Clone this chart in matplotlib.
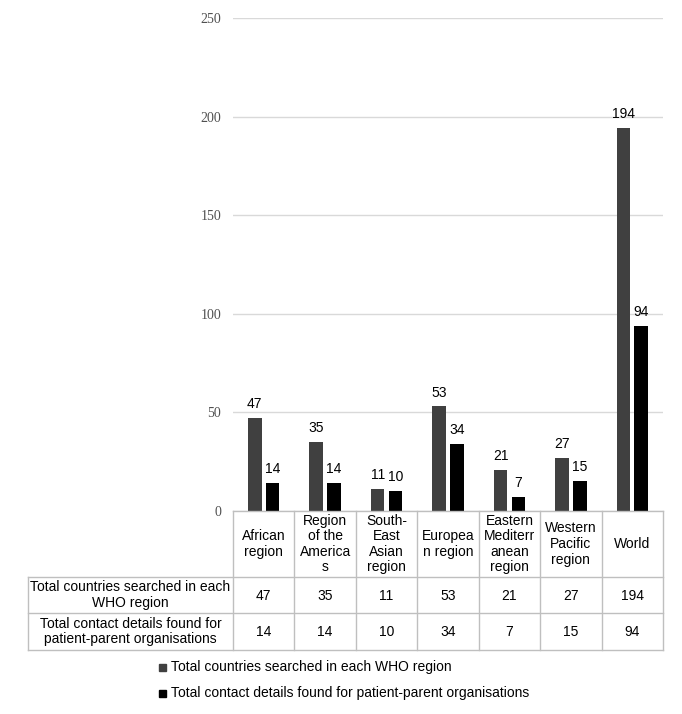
import matplotlib
matplotlib.use("Agg")
import matplotlib.pyplot as plt
from matplotlib.lines import Line2D
from matplotlib.patches import Rectangle
import numpy as np

categories = ["African\nregion", "Region\nof the\nAmerica\ns", "South-\nEast\nAsian\nregion",
              "Europea\nn region", "Eastern\nMediterr\nanean\nregion", "Western\nPacific\nregion", "World"]
series_names = ["Total countries searched in each WHO region",
                "Total contact details found for patient-parent organisations"]
row_labels = ["Total countries searched in each\nWHO region",
              "Total contact details found for\npatient-parent organisations"]
countries_searched = [47, 35, 11, 53, 21, 27, 194]
contacts_found = [14, 14, 10, 34, 7, 15, 94]
yticks = [0, 50, 100, 150, 200, 250]

colors = ["#404040", "#000000"]
W, H = 682, 714
fig = plt.figure(figsize=(W / 100, H / 100), dpi=100)
plt.rcParams['font.family'] = ['Liberation Sans', 'DejaVu Sans']

def fy(py):
    return 1 - py / H

def fx(px):
    return px / W

ax_l, ax_r, ax_t, ax_b = 233, 663, 18, 511
ax = fig.add_axes([fx(ax_l), fy(ax_b), fx(ax_r) - fx(ax_l), fy(ax_t) - fy(ax_b)])
n = len(categories)
x = np.arange(n)
bw = 0.22
off = 0.145
series = [countries_searched, contacts_found]
for i, (vals, c) in enumerate(zip(series, colors)):
    xs = x + (-off if i == 0 else off)
    ax.bar(xs, vals, width=bw, color=c, zorder=3)
    for xi, v in zip(xs, vals):
        ax.annotate(str(v), (xi, v), xytext=(0, 5), textcoords="offset points",
                    ha="center", va="bottom", fontsize=10, color="#000000", zorder=4)

ax.set_xlim(-0.5, n - 0.5)
ax.set_ylim(0, 250)
ax.set_yticks(yticks)
ax.set_yticklabels([str(t) for t in yticks], family="Liberation Serif", fontsize=10, color="#505050")
ax.tick_params(axis="y", length=0, pad=8.5)
ax.tick_params(axis="x", length=0, labelbottom=False)
ax.grid(axis="y", color="#d9d9d9", linewidth=1, zorder=0)
for s in ax.spines.values():
    s.set_visible(False)

# table
tcol = "#bfbfbf"
col_w = (ax_r - ax_l) / n
row_y = [511, 577, 613, 650]
lab_l = 28
def hline(px0, px1, py):
    fig.add_artist(Line2D([fx(px0), fx(px1)], [fy(py), fy(py)], color=tcol, lw=1))
def vline(px, py0, py1):
    fig.add_artist(Line2D([fx(px), fx(px)], [fy(py0), fy(py1)], color=tcol, lw=1))

hline(ax_l, ax_r, row_y[0])
for py in row_y[1:]:
    hline(lab_l, ax_r, py)
for k in range(n + 1):
    vline(ax_l + k * col_w, row_y[0], row_y[3])
vline(lab_l, row_y[1], row_y[3])

fs = 10
for k, cat in enumerate(categories):
    cx = ax_l + (k + 0.5) * col_w
    fig.text(fx(cx), fy((row_y[0] + row_y[1]) / 2), cat, ha="center", va="center",
             fontsize=fs, linespacing=1.15)
    for r, vals in enumerate(series):
        fig.text(fx(cx), fy((row_y[r + 1] + row_y[r + 2]) / 2 + 1), str(vals[k]),
                 ha="center", va="center", fontsize=fs)
for r, lab in enumerate(row_labels):
    fig.text(fx((lab_l + ax_l) / 2), fy((row_y[r + 1] + row_y[r + 2]) / 2), lab,
             ha="center", va="center", fontsize=fs, linespacing=1.15)

# legend
leg_y = [667, 693]
for name, c, py in zip(series_names, colors, leg_y):
    fig.add_artist(Rectangle((fx(159), fy(py + 4)), fx(7), 7 / H, color=c))
    fig.text(fx(171), fy(py), name, ha="left", va="center", fontsize=fs)

fig.savefig("out.png", dpi=100)
